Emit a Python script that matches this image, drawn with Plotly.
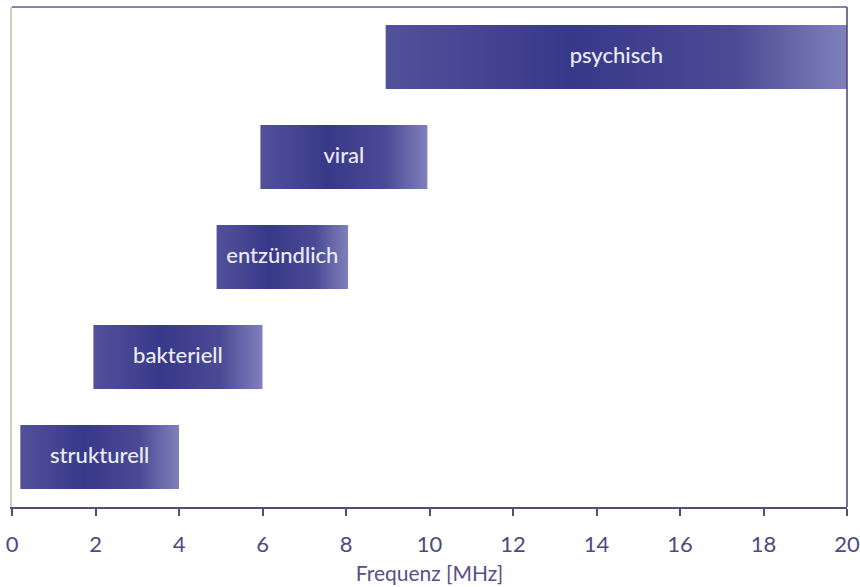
import plotly.graph_objects as go

categories = ["strukturell", "bakteriell", "entzündlich", "viral", "psychisch"]
start_mhz = [0.2, 1.95, 4.9, 5.95, 8.95]
end_mhz = [4.0, 6.0, 8.05, 9.95, 20.0]
x_ticks = [0, 2, 4, 6, 8, 10, 12, 14, 16, 18, 20]

half = 0.32
grad = [[0, "#52529a"], [0.4, "#38388a"], [0.75, "#4a4a94"], [1, "#8080bc"]]

fig = go.Figure()
for i, (c, s, e) in enumerate(zip(categories, start_mhz, end_mhz)):
    fig.add_trace(go.Scatter(
        x=[s, e, e, s, s],
        y=[i - half, i - half, i + half, i + half, i - half],
        mode="lines", line=dict(width=0),
        fill="toself",
        fillgradient=dict(type="horizontal", colorscale=grad),
        hoverinfo="skip", showlegend=False,
    ))

fig.add_trace(go.Scatter(
    x=[(s + e) / 2 for s, e in zip(start_mhz, end_mhz)],
    y=list(range(len(categories))),
    mode="text", text=categories,
    textfont=dict(family="Lato", size=22, color="#ececf4", weight=500),
    hoverinfo="skip", showlegend=False,
))

fig.add_shape(type="line", xref="paper", yref="paper", x0=1, x1=1, y0=0, y1=1,
              line=dict(color="#4a4070", width=1.5))
fig.add_shape(type="line", xref="paper", yref="paper", x0=0, x1=1, y0=1, y1=1,
              line=dict(color="#5a5a9a", width=1.5))

axis_font = dict(family="Lato", size=22, color="#4e4a7e")
fig.update_layout(
    width=860, height=587,
    margin=dict(l=12, r=13, t=7, b=80),
    paper_bgcolor="white", plot_bgcolor="white",
    xaxis=dict(
        range=[0, 20], tickvals=x_ticks, ticktext=[str(t) for t in x_ticks],
        automargin=False,
        showgrid=False, zeroline=False,
        showline=True, linecolor="#5a4a7a", linewidth=1.5,
        ticks="outside", ticklen=7, tickcolor="#5a4a7a", tickwidth=1.5,
        tickfont=axis_font, ticklabelstandoff=10,
        title=dict(text="Frequenz [MHz]", font=dict(family="Lato", size=21, color="#5a5088"), standoff=10),
    ),
    yaxis=dict(
        range=[-0.5, 4.5], showticklabels=False, showgrid=False, zeroline=False,
        automargin=False,
        showline=True, linecolor="#d8ccb8", linewidth=1.5, ticks="",
    ),
)

fig.write_html("out.html")
